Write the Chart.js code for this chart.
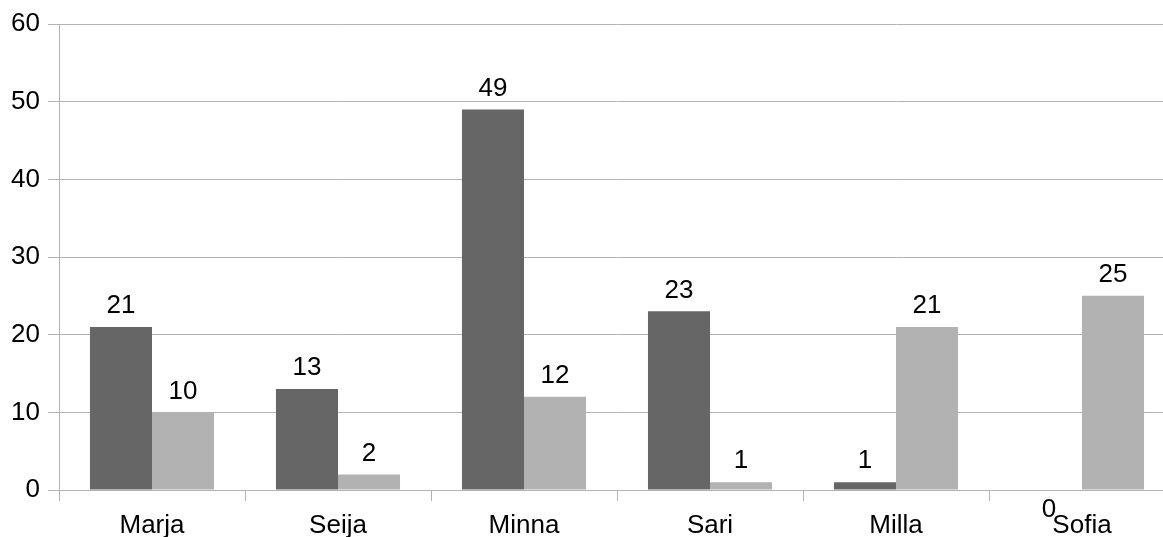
<!DOCTYPE html>
<html>
<head>
<meta charset="utf-8">
<script src="https://cdn.jsdelivr.net/npm/chart.js@4/dist/chart.umd.min.js"></script>
<style>
  html, body { margin: 0; padding: 0; background: #fff; overflow: hidden; }
  #wrap { width: 1175px; height: 537px; }
</style>
</head>
<body>
<div id="wrap"><canvas id="chart" width="1175" height="537"></canvas></div>
<script>
const names = ["Marja", "Seija", "Minna", "Sari", "Milla", "Sofia"];
const darkValues = [21, 13, 49, 23, 1, 0];
const lightValues = [10, 2, 12, 1, 21, 25];
const yTicks = [0, 10, 20, 30, 40, 50, 60];

const FONT = '"Liberation Sans", Arial, sans-serif';
const GRID = "#b3b3b3";

// value labels over each bar (zero sits under the axis)
const valueLabels = {
  id: "valueLabels",
  afterDatasetsDraw(chart) {
    const ctx = chart.ctx;
    ctx.save();
    ctx.font = "26px " + FONT;
    ctx.fillStyle = "#000";
    ctx.textAlign = "center";
    ctx.textBaseline = "middle";
    chart.data.datasets.forEach((ds, i) => {
      chart.getDatasetMeta(i).data.forEach((bar, j) => {
        const v = ds.data[j];
        const y = v === 0 ? bar.y + 20 : bar.y - 21;
        ctx.fillText(String(v), bar.x - (v === 0 ? 2 : 0), y);
      });
    });
    ctx.restore();
  }
};

new Chart(document.getElementById("chart"), {
  type: "bar",
  data: {
    labels: names,
    datasets: [
      { data: darkValues, backgroundColor: "#666666", borderWidth: 0 },
      { data: lightValues, backgroundColor: "#b2b2b2", borderWidth: 0 }
    ]
  },
  options: {
    responsive: false,
    animation: false,
    layout: { padding: { top: 24, left: 0, right: 0, bottom: 0 } },
    datasets: { bar: { categoryPercentage: 0.667, barPercentage: 1 } },
    plugins: { legend: { display: false }, tooltip: { enabled: false } },
    scales: {
      x: {
        offset: true,
        grid: { offset: true, drawOnChartArea: false, drawTicks: true, tickLength: 11, color: GRID },
        border: { display: true, color: GRID },
        ticks: { color: "#000", font: { family: FONT, size: 26 }, padding: 9 },
        afterFit(scale) { scale.height = 47; }
      },
      y: {
        min: 0,
        max: 60,
        afterBuildTicks(scale) { scale.ticks = yTicks.map(v => ({ value: v })); },
        grid: { color: GRID, tickLength: 11 },
        border: { display: true, color: GRID },
        ticks: { color: "#000", font: { family: FONT, size: 26 }, padding: 8 },
        afterFit(scale) { scale.width = 59; }
      }
    }
  },
  plugins: [valueLabels]
});
</script>
</body>
</html>
